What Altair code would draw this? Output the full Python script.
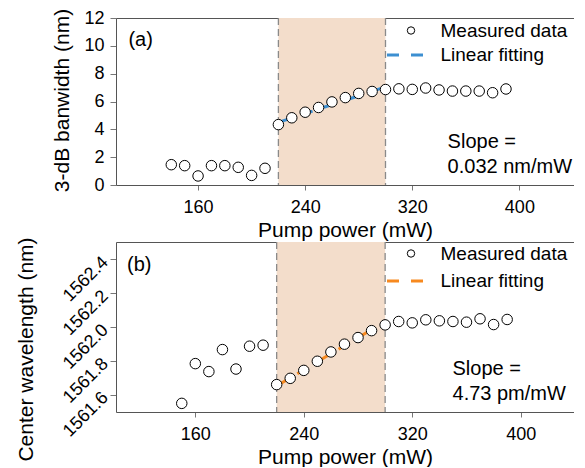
import altair as alt
import pandas as pd

# ---------------- data ----------------
# Panel (a): 3-dB bandwidth vs pump power
power_a = [140, 150, 160, 170, 180, 190, 200, 210, 220, 230, 240, 250, 260,
           270, 280, 290, 300, 310, 320, 330, 340, 350, 360, 370, 380, 390]
bandwidth_a = [1.46, 1.39, 0.65, 1.39, 1.39, 1.27, 0.69, 1.20, 4.34, 4.83,
               5.23, 5.57, 5.97, 6.28, 6.58, 6.72, 6.86, 6.91, 6.87, 6.97,
               6.83, 6.75, 6.75, 6.75, 6.63, 6.90]
fit_power_a = [220, 300]
fit_value_a = [4.50, 7.05]

# Panel (b): center wavelength vs pump power
power_b = [150, 160, 170, 180, 190, 200, 210, 220, 230, 240, 250, 260, 270,
           280, 290, 300, 310, 320, 330, 340, 350, 360, 370, 380, 390]
wavelength_b = [1561.549, 1561.784, 1561.737, 1561.867, 1561.752, 1561.887,
                1561.893, 1561.660, 1561.697, 1561.744, 1561.798, 1561.853,
                1561.899, 1561.938, 1561.979, 1562.013, 1562.033, 1562.025,
                1562.043, 1562.037, 1562.033, 1562.029, 1562.049, 1562.015,
                1562.045]
fit_power_b = [220, 290]
fit_value_b = [1561.652, 1561.985]

region_edges = [220, 300]

ticks_x = [160, 240, 320, 400]
ticks_a = [0, 2, 4, 6, 8, 10, 12]
ticks_b = [1561.6, 1561.8, 1562.0, 1562.2, 1562.4]

labels_a = ["(a)", "Slope =", "0.032 nm/mW"]
label_x_a = [108, 346.4, 346.4]
label_y_a = [10.0, 2.68, 0.88]
labels_b = ["(b)", "Slope =", "4.73 pm/mW"]
label_x_b = [109.6, 349.7, 349.7]
label_y_b = [1562.333, 1561.714, 1561.570]

# ---------------- styling ----------------
FONT = "Liberation Sans"
BLUE = "#3d8fd1"
ORANGE = "#f7891f"
SHADE = "#f3ddcb"
FRAME = "#555555"
TICK = "#777777"
W = 458


def panel(px, py, fx, fy, fit_color, xdom, ydom, height, yaxis, ann,
          circ_leg, line_leg):
    xs = alt.Scale(domain=xdom, nice=False, zero=False)
    ys = alt.Scale(domain=ydom, nice=False, zero=False)
    meas = pd.DataFrame({"power": px, "value": py, "series": "Measured data"})
    fit = pd.DataFrame({"power": fx, "value": fy, "series": "Linear fitting"})
    reg = pd.DataFrame({"start": [region_edges[0]], "end": [region_edges[1]]})
    edges = pd.DataFrame({"power": region_edges})

    shade = alt.Chart(reg).mark_rect(color=SHADE, opacity=1).encode(
        x=alt.X("start:Q", scale=xs,
                axis=alt.Axis(orient="top", labels=False, ticks=False,
                              title=None, grid=False, domainColor=FRAME)),
        x2="end:Q",
    )
    rules = alt.Chart(edges).mark_rule(
        color="#8a8a8a", strokeDash=[7, 4], strokeWidth=1.3
    ).encode(x=alt.X("power:Q", scale=xs, axis=None))

    line = alt.Chart(fit).mark_line(strokeDash=[12, 12], strokeWidth=3).encode(
        x=alt.X("power:Q", scale=xs, axis=None),
        y=alt.Y("value:Q", scale=ys, axis=yaxis),
        color=alt.Color(
            "series:N",
            scale=alt.Scale(domain=["Linear fitting"], range=[fit_color]),
            legend=alt.Legend(
                orient="none", legendX=line_leg[0], legendY=line_leg[1],
                title=None, symbolType="stroke", symbolSize=1369,
                symbolStrokeWidth=3, symbolDash=[12, 12],
                labelFont=FONT, labelFontSize=19, labelColor="black",
                labelOffset=15, padding=0, labelLimit=0,
            ),
        ),
    )

    points = alt.Chart(meas).mark_point(
        shape="circle", filled=False, fill="white", strokeWidth=1,
        size=110, opacity=1,
    ).encode(
        x=alt.X("power:Q", scale=xs,
                axis=alt.Axis(orient="bottom", values=ticks_x,
                              title="Pump power (mW)", titleY=51,
                              titleFontSize=21,
                              titleBaseline="alphabetic",
                              labelBaseline="alphabetic", labelPadding=22,
                              tickSize=5, grid=False)),
        y=alt.Y("value:Q", scale=ys, axis=yaxis),
        stroke=alt.Stroke(
            "series:N",
            scale=alt.Scale(domain=["Measured data"], range=["black"]),
            legend=alt.Legend(
                orient="none", legendX=circ_leg[0], legendY=circ_leg[1],
                title=None, symbolType="circle", symbolSize=55,
                symbolStrokeWidth=1, symbolFillColor="white",
                symbolOpacity=1,
                labelFont=FONT, labelFontSize=19, labelColor="black",
                labelOffset=20, padding=0, labelLimit=0,
            ),
        ),
    )

    text = alt.Chart(ann).mark_text(
        align="left", baseline="alphabetic", font=FONT, fontSize=20,
        color="black",
    ).encode(
        x=alt.X("x:Q", scale=xs, axis=None),
        y=alt.Y("y:Q", scale=ys, axis=yaxis),
        text="text:N",
    )

    return alt.layer(shade, rules, line, points, text).resolve_axis(
        x="independent"
    ).properties(width=W, height=height)


ann_a = pd.DataFrame({"x": label_x_a, "y": label_y_a, "text": labels_a})
ann_b = pd.DataFrame({"x": label_x_b, "y": label_y_b, "text": labels_b})

yaxis_a = alt.Axis(values=ticks_a, title="3-dB banwidth (nm)", titleX=-48,
                   titleY=82, titleBaseline="alphabetic", tickSize=6,
                   labelPadding=6, titleFontSize=21, grid=False)
yaxis_b = alt.Axis(values=ticks_b, format=".1f",
                   title="Center wavelength (nm)", titleX=-84, titleY=107,
                   titleBaseline="alphabetic", tickSize=6, labelPadding=5,
                   labelAngle=315, labelAlign="right", labelBaseline="middle",
                   labelOverlap=False, titleFontSize=21, grid=False)

top = panel(power_a, bandwidth_a, fit_power_a, fit_value_a, BLUE,
            [98.7, 440.8], [0, 12], 167, yaxis_a, ann_a,
            circ_leg=(285.5, 3), line_leg=(269.5, 17))
bottom = panel(power_b, wavelength_b, fit_power_b, fit_value_b, ORANGE,
               [101.5, 439.3], [1561.498, 1562.503], 170, yaxis_b, ann_b,
               circ_leg=(285.5, 2), line_leg=(269.5, 19))

chart = alt.vconcat(top, bottom, spacing=57, bounds="flush").resolve_scale(
    x="independent", y="independent", color="independent",
    stroke="independent",
).resolve_legend(color="independent", stroke="independent").properties(
    padding={"left": 6, "top": 0, "right": 0, "bottom": 0}
).configure_view(stroke=None).configure_axis(
    labelFont=FONT, titleFont=FONT, labelFontSize=18, titleFontSize=20,
    labelColor="black", titleColor="black", titleFontWeight="normal",
    domainColor=FRAME, tickColor=TICK, domainWidth=1,
)

chart.save("out.html", embed_options={"renderer": "svg", "actions": False})
